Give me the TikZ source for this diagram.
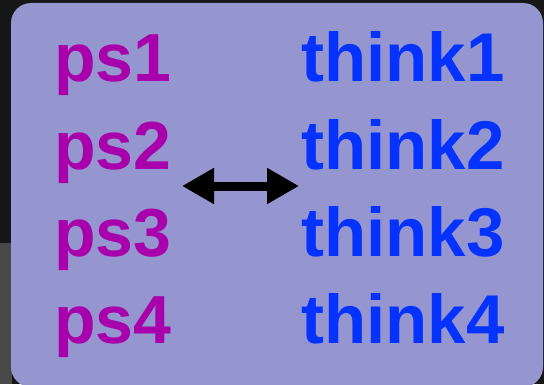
\documentclass[tikz,border=0pt]{standalone}
\usepackage{fontspec}
\setmainfont{Liberation Sans}
\usepackage{tikz}
\usetikzlibrary{arrows.meta}
\definecolor{panelfill}{RGB}{149,149,208}
\definecolor{psmag}{RGB}{168,0,170}
\definecolor{thinkblue}{RGB}{5,50,255}
\definecolor{backdrop}{RGB}{22,22,22}
\definecolor{backgray}{RGB}{72,72,70}
\tikzset{
  pslabel/.style={anchor=base west, inner sep=0pt, text=psmag, font=\fontsize{68}{80}\selectfont\bfseries},
  thinklabel/.style={anchor=base west, inner sep=0pt, text=thinkblue, font=\fontsize{69}{80}\selectfont\bfseries},
  swaparrow/.style={{Triangle[length=32pt, width=34pt]}-{Triangle[length=32pt, width=34pt]}, line width=9pt}
}
\begin{document}
\begin{tikzpicture}[x=1pt, y=1pt]
  % backdrop
  \fill[backdrop] (0,0) rectangle (544,384);
  \fill[backgray] (0,0) rectangle (12,141);
  \useasboundingbox (0,0) rectangle (544,384);
  % panel
  \fill[panelfill, rounded corners=20pt] (11,-3) rectangle (543,381);
  % left column
  \node[pslabel] (ps1) at (54,302) {ps1};
  \node[pslabel] (ps2) at (54,215) {ps2};
  \node[pslabel] (ps3) at (54,128) {ps3};
  \node[pslabel] (ps4) at (54,41) {ps4};
  % right column
  \node[thinklabel] (think1) at (301,302) {think1};
  \node[thinklabel] (think2) at (301,215) {think2};
  \node[thinklabel] (think3) at (301,128) {think3};
  \node[thinklabel] (think4) at (301,41) {think4};
  % arrow between columns
  \coordinate (swapL) at (182,198);
  \coordinate (swapR) at (299,198);
  \draw[swaparrow] (swapL) -- (swapR);
\end{tikzpicture}
\end{document}
